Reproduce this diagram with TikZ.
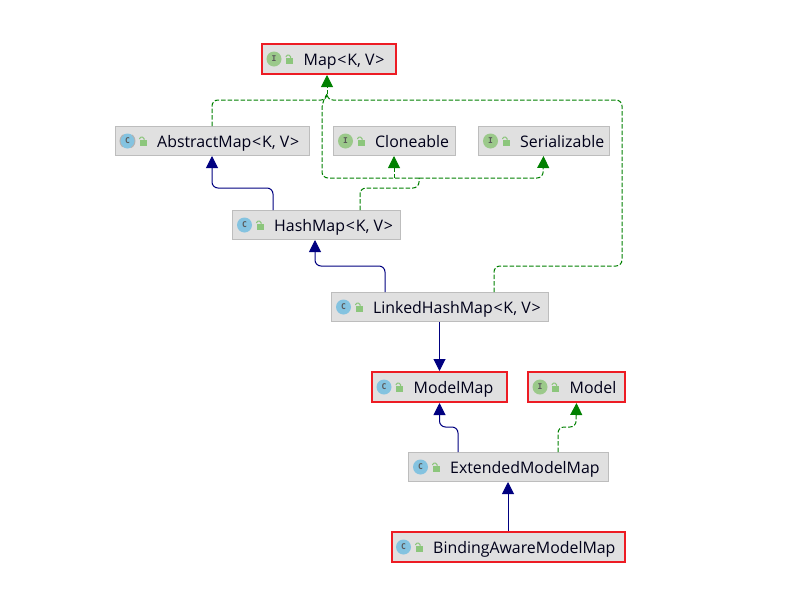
\documentclass[tikz,border=0pt]{standalone}
\usepackage{fontspec}
\setmainfont{Open Sans}
\setmonofont{DejaVu Sans Mono}
\usetikzlibrary{arrows.meta}
\usetikzlibrary{positioning}
\definecolor{boxfill}{HTML}{E0E0E0}
\definecolor{boxline}{HTML}{BDBDBD}
\definecolor{markred}{HTML}{ED1C24}
\definecolor{implgreen}{HTML}{008000}
\definecolor{extnavy}{HTML}{000080}
\definecolor{classblue}{HTML}{84C3E0}
\definecolor{ifacegreen}{HTML}{9BC98A}
\definecolor{lockgreen}{HTML}{8CC67C}
\begin{document}
\begin{tikzpicture}[x=1pt, y=-1pt,
umlbox/.style = {rectangle, minimum height=29pt, inner sep=0pt, fill=boxfill, draw=boxline, line width=1pt},
marked/.style = {umlbox, minimum height=30pt, draw=markred, line width=2pt},
boxlabel/.style = {anchor=base west, inner sep=0pt, font=\fontsize{15.9pt}{18pt}\selectfont, text=black!90!blue},
classicon/.style = {circle, minimum size=15pt, inner sep=0pt, fill=classblue, font=\fontsize{8pt}{8pt}\selectfont\ttfamily\bfseries, text=black!65},
abstracticon/.style = {classicon, draw=gray!60, line width=1pt, dash pattern=on 14pt off 9pt, dash phase=7pt},
ifaceicon/.style = {classicon, fill=ifacegreen},
lockicon/.style = {rectangle, minimum width=7pt, minimum height=5.5pt, inner sep=0pt, fill=lockgreen},
edge/.style = {line width=1pt, rounded corners=6pt},
tipped/.style = {-{Triangle[width=12pt,length=12pt]}},
extends/.style = {edge, tipped, draw=extnavy},
implline/.style = {edge, draw=implgreen, dash pattern=on 4.5pt off 2pt},
implements/.style = {implline, tipped}]
\def\lt{\kern.8pt<\kern.8pt}
\def\gt{\kern.8pt>}
\useasboundingbox (0,0) rectangle (804,598);
\node[marked, minimum width=134pt] (map) at (329,59) {};
\node[umlbox, minimum width=194pt] (abstractmap) at (212,141) {};
\node[umlbox, minimum width=122pt] (cloneable) at (394,141) {};
\node[umlbox, minimum width=131pt] (serializable) at (543.5,141) {};
\node[umlbox, minimum width=168pt] (hashmap) at (316,225) {};
\node[umlbox, minimum width=217pt] (linkedmap) at (439.5,307) {};
\node[marked, minimum width=135pt] (modelmap) at (439.5,387) {};
\node[marked, minimum width=97pt] (model) at (576.5,387) {};
\node[umlbox, minimum width=200pt] (extendedmap) at (508,467) {};
\node[marked, minimum width=233pt] (bindingmap) at (508,547) {};

\foreach \boxname/\kind/\letter/\boxtext in {
map/ifaceicon/I/{Map\lt K, V\gt},
abstractmap/abstracticon/C/{AbstractMap\lt K, V\gt},
cloneable/ifaceicon/I/{Cloneable},
serializable/ifaceicon/I/{Serializable},
hashmap/classicon/C/{HashMap\lt K, V\gt},
linkedmap/classicon/C/{LinkedHashMap\lt K, V\gt},
modelmap/classicon/C/{ModelMap},
model/ifaceicon/I/{Model},
extendedmap/classicon/C/{ExtendedModelMap},
bindingmap/classicon/C/{BindingAwareModelMap}}{
\node[\kind] (\boxname-icon) at ([xshift=13pt]\boxname.west) {\letter};
\node[lockicon] (\boxname-lock) at ([xshift=28.5pt,yshift=-2pt]\boxname.west) {};
\draw[lockgreen, line width=1pt, rounded corners=1.5pt] ([xshift=1pt]\boxname-lock.north) -- ++(0,3pt) -- ++(-4.5pt,0) -- ++(0,-2pt);
\node[boxlabel] (\boxname-text) at ([xshift=42.5pt,yshift=-6.5pt]\boxname.west) {\boxtext};
}

\coordinate (mapjoin) at (327,94);
\coordinate (implsplit) at (419,178);
\coordinate (cloneturn) at (394,178);

% inheritance
\draw[extends] ([xshift=-43pt]hashmap.north) -- (273,188) -- (212,188) -- (abstractmap.south);
\draw[extends] ([xshift=-54.5pt]linkedmap.north) -- (385,266) -- (315,266) -- ([xshift=-1pt]hashmap.south);
\draw[extends] (linkedmap.south) -- (modelmap.north);
\draw[extends] ([xshift=-50pt]extendedmap.north) -- (458,427) -- (439.5,427) -- (modelmap.south);
\draw[extends] (bindingmap.north) -- (extendedmap.south);

% interfaces
\draw[implements] (mapjoin) -- ([xshift=-2pt]map.south);
\draw[implline] (abstractmap.north) -- (212,100) -- (327,100) -- (mapjoin);
\draw[implline] ([xshift=54.5pt]linkedmap.north) -- (494,266) -- (622,266) -- (622,100) -- (327,100) -- (mapjoin);
\draw[implline] ([xshift=44pt]hashmap.north) -- (360,188) -- (419,188) -- (implsplit);
\draw[implline] (implsplit) -- (322,178) -- (322,103) -- (mapjoin);
\draw[implements] (cloneturn) -- (cloneable.south);
\draw[implements] (implsplit) -- (543,178) -- (serializable.south);
\draw[implements] ([xshift=50pt]extendedmap.north) -- (558,427) -- (576,427) -- (model.south);
\end{tikzpicture}
\end{document}
